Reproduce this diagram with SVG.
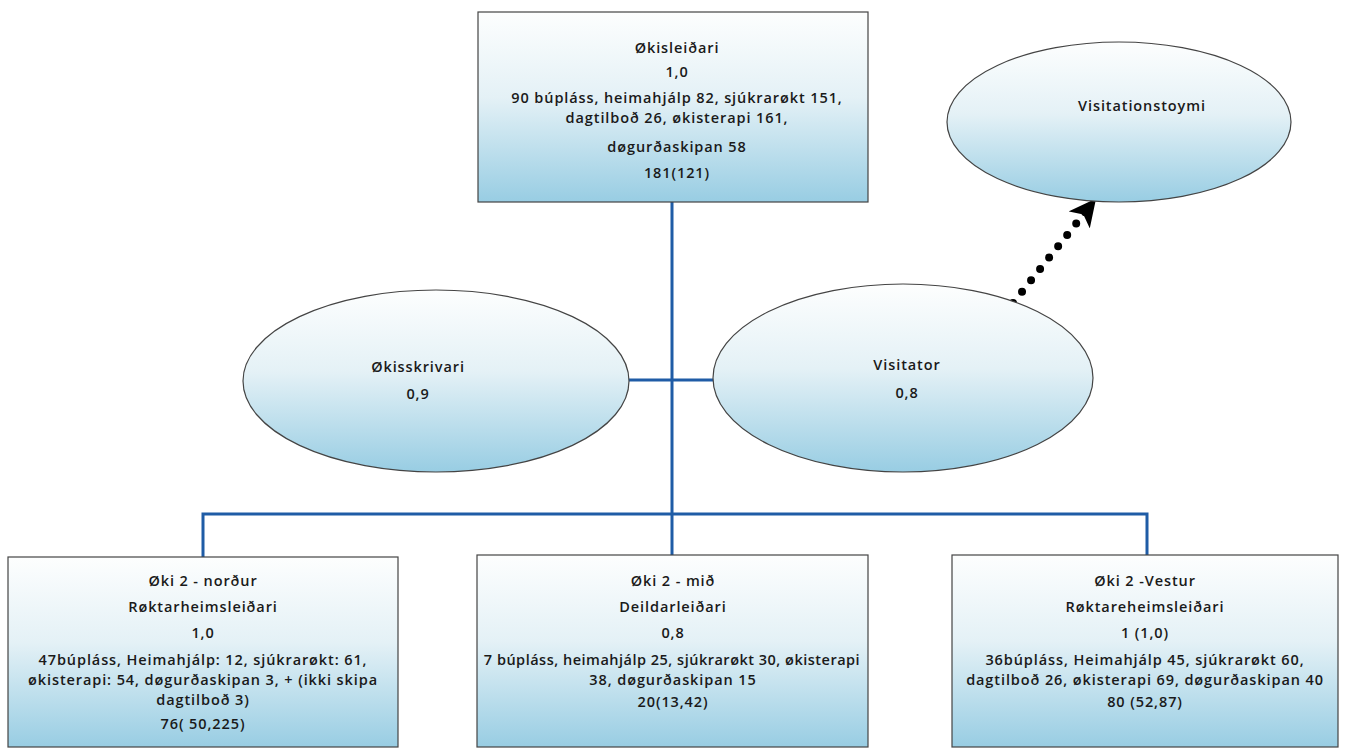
<svg xmlns="http://www.w3.org/2000/svg" width="1347" height="748" viewBox="0 0 1347 748">
<defs>
<linearGradient id="g" x1="0" y1="0" x2="0" y2="1">
<stop offset="0" stop-color="#fdfefe"/>
<stop offset="0.45" stop-color="#e4f1f6"/>
<stop offset="1" stop-color="#98cde3"/>
</linearGradient>
<marker id="ah" viewBox="0 0 10 10" refX="7" refY="5" markerWidth="3.4" markerHeight="3.4" orient="auto" markerUnits="strokeWidth">
<path d="M0,0 L10,5 L0,10 L2.5,5 Z" fill="#000"/>
</marker>
</defs>
<style>
.box{fill:url(#g);stroke:#444;stroke-width:1.2}
.t{font-family:"Open Sans","Liberation Sans",sans-serif;font-size:14.5px;font-weight:600;letter-spacing:0.9px;fill:#1a1a1a;text-anchor:middle}
.n{letter-spacing:0.5px}
.c{fill:none;stroke:#1f5ca6;stroke-width:3}
</style>
<rect width="1347" height="748" fill="#fff"/>
<g id="connectors">
<path class="c" d="M672,202 V514"/>
<path class="c" d="M628,380 H713"/>
<path class="c" d="M203,557 V514 H1147 V555"/>
<path class="c" d="M672,514 V555"/>
<path d="M1013,303 L1091,205" fill="none" stroke="#000" stroke-width="8" stroke-linecap="round" stroke-dasharray="0 14.5" marker-end="url(#ah)"/>
</g>
<g id="okisleidari">
<rect class="box" x="478" y="12" width="390" height="190"/>
<text class="t" x="677" y="53">Økisleiðari</text>
<text class="t" x="677" y="77">1,0</text>
<text class="t" x="677" y="103">90 búpláss, heimahjálp 82, sjúkrarøkt 151,</text>
<text class="t" x="677" y="123">dagtilboð 26, økisterapi  161,</text>
<text class="t" x="677" y="152">døgurðaskipan 58</text>
<text class="t" x="677" y="178">181(121)</text>
</g>
<g id="visitationstoymi">
<ellipse class="box" cx="1119" cy="122" rx="172" ry="80"/>
<text class="t" x="1142" y="111">Visitationstoymi</text>
</g>
<g id="okisskrivari">
<ellipse class="box" cx="436" cy="381" rx="193" ry="91"/>
<text class="t" x="418" y="372">Økisskrivari</text>
<text class="t" x="418" y="399">0,9</text>
</g>
<g id="visitator">
<ellipse class="box" cx="903" cy="378" rx="190" ry="94"/>
<text class="t" x="907" y="370">Visitator</text>
<text class="t" x="907" y="398">0,8</text>
</g>
<g id="nordur">
<rect class="box" x="8" y="557" width="390" height="190"/>
<text class="t" x="203" y="586">Øki 2 - norður</text>
<text class="t" x="203" y="612">Røktarheimsleiðari</text>
<text class="t" x="203" y="638">1,0</text>
<text class="t" x="203" y="665">47búpláss, Heimahjálp: 12, sjúkrarøkt: 61,</text>
<text class="t" x="203" y="685">økisterapi: 54, døgurðaskipan 3, + (ikki skipa</text>
<text class="t" x="203" y="705">dagtilboð 3)</text>
<text class="t" x="203" y="729">76( 50,225)</text>
</g>
<g id="mid">
<rect class="box" x="477" y="555" width="391" height="192"/>
<text class="t" x="673" y="586">Øki 2 - mið</text>
<text class="t" x="673" y="612">Deildarleiðari</text>
<text class="t" x="673" y="638">0,8</text>
<text class="t n" x="672" y="665">7 búpláss, heimahjálp 25, sjúkrarøkt 30, økisterapi</text>
<text class="t" x="673" y="685">38, døgurðaskipan 15</text>
<text class="t" x="673" y="707">20(13,42)</text>
</g>
<g id="vestur">
<rect class="box" x="952" y="555" width="386" height="192"/>
<text class="t" x="1145" y="586">Øki 2  -Vestur</text>
<text class="t" x="1145" y="612">Røktareheimsleiðari</text>
<text class="t" x="1145" y="638">1 (1,0)</text>
<text class="t" x="1145" y="665">36búpláss, Heimahjálp 45, sjúkrarøkt 60,</text>
<text class="t" x="1145" y="685">dagtilboð 26, økisterapi 69, døgurðaskipan 40</text>
<text class="t" x="1145" y="707">80 (52,87)</text>
</g>
</svg>
